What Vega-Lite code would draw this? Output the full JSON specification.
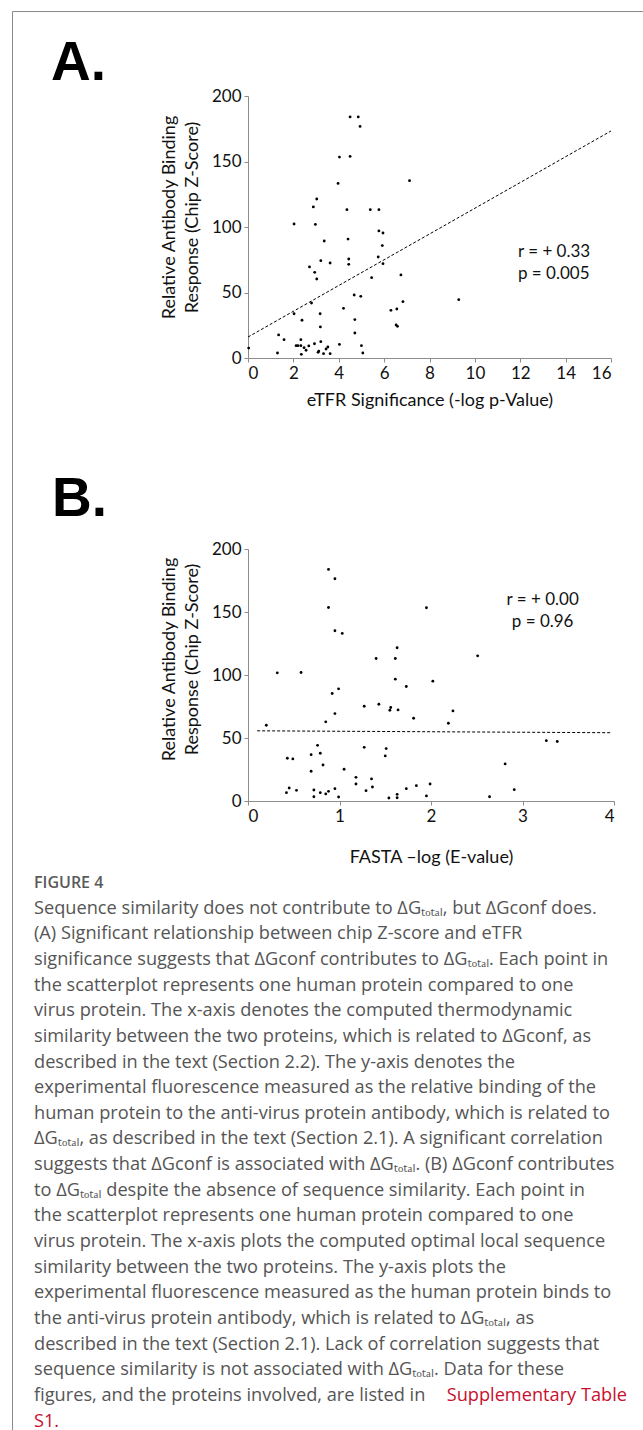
{
  "$schema": "https://vega.github.io/schema/vega-lite/v6.json",
  "background": "white",
  "padding": {"left": 11, "top": 11, "right": 0, "bottom": 0},
  "autosize": {"type": "pad"},
  "bounds": "flush",
  "spacing": 191,
  "config": {
    "view": {"stroke": null},
    "font": "Lato",
    "axis": {
      "grid": false,
      "domainColor": "#8c8c8c",
      "tickColor": "#8c8c8c",
      "tickSize": 4,
      "labelFont": "Lato",
      "labelFontSize": 17,
      "labelColor": "#111111",
      "titleFont": "Lato",
      "titleFontSize": 18,
      "titleFontWeight": "normal",
      "titleColor": "#111111"
    }
  },
  "datasets": {
    "a_points": [
      {"x": 0.03, "y": 7.6}, {"x": 1.3, "y": 3.8}, {"x": 1.35, "y": 17.6}, {"x": 1.59, "y": 14}, {"x": 2.03, "y": 102.3},
      {"x": 2.03, "y": 33.8}, {"x": 2.12, "y": 9.4}, {"x": 2.2, "y": 9.4}, {"x": 2.33, "y": 9.4}, {"x": 2.33, "y": 14},
      {"x": 2.38, "y": 28.8}, {"x": 2.35, "y": 2.8}, {"x": 2.47, "y": 7.9}, {"x": 2.56, "y": 5.9}, {"x": 2.71, "y": 69.5},
      {"x": 2.68, "y": 9.2}, {"x": 2.8, "y": 42}, {"x": 2.88, "y": 115.3}, {"x": 2.94, "y": 65.4}, {"x": 2.93, "y": 10.9},
      {"x": 2.97, "y": 102}, {"x": 3.03, "y": 121.4}, {"x": 3.03, "y": 60.3}, {"x": 3.09, "y": 4.3}, {"x": 3.12, "y": 5.3},
      {"x": 3.18, "y": 33.8}, {"x": 3.19, "y": 23.7}, {"x": 3.21, "y": 12.5}, {"x": 3.21, "y": 74.3}, {"x": 3.33, "y": 3.3},
      {"x": 3.36, "y": 89.3}, {"x": 3.44, "y": 6.9}, {"x": 3.52, "y": 8.4}, {"x": 3.62, "y": 72.5}, {"x": 3.62, "y": 3.3},
      {"x": 3.97, "y": 133.3}, {"x": 4.03, "y": 153.4}, {"x": 4.03, "y": 10.4}, {"x": 4.21, "y": 37.9}, {"x": 4.36, "y": 113.2},
      {"x": 4.41, "y": 90.8}, {"x": 4.5, "y": 184}, {"x": 4.5, "y": 153.9}, {"x": 4.44, "y": 75.6}, {"x": 4.44, "y": 71.5},
      {"x": 4.68, "y": 48.1}, {"x": 4.71, "y": 29.3}, {"x": 4.71, "y": 19.1}, {"x": 4.86, "y": 184}, {"x": 4.94, "y": 176.8},
      {"x": 4.97, "y": 47.1}, {"x": 5.0, "y": 9.4}, {"x": 5.06, "y": 3.8}, {"x": 5.39, "y": 113.2}, {"x": 5.45, "y": 61.3},
      {"x": 5.77, "y": 113.2}, {"x": 5.77, "y": 97}, {"x": 5.74, "y": 77.1}, {"x": 5.95, "y": 95.4}, {"x": 5.92, "y": 85.8},
      {"x": 5.95, "y": 72}, {"x": 6.3, "y": 36.4}, {"x": 6.56, "y": 37.4}, {"x": 6.53, "y": 25.2}, {"x": 6.59, "y": 24.2},
      {"x": 6.74, "y": 63.4}, {"x": 6.83, "y": 43}, {"x": 7.12, "y": 135.4}, {"x": 9.29, "y": 44.5}
    ],
    "a_fit": [{"x": 0, "y": 16}, {"x": 16, "y": 173.3}],
    "b_points": [
      {"x": 0.2, "y": 60.1}, {"x": 0.32, "y": 101.7}, {"x": 0.58, "y": 102}, {"x": 0.42, "y": 6.6}, {"x": 0.45, "y": 10.3},
      {"x": 0.43, "y": 33.9}, {"x": 0.49, "y": 33.4}, {"x": 0.53, "y": 8.5}, {"x": 0.69, "y": 36.8}, {"x": 0.69, "y": 23.6},
      {"x": 0.72, "y": 8.7}, {"x": 0.72, "y": 3.4}, {"x": 0.76, "y": 44.2}, {"x": 0.79, "y": 37.9}, {"x": 0.79, "y": 6.6},
      {"x": 0.82, "y": 28.6}, {"x": 0.85, "y": 5.6}, {"x": 0.85, "y": 62.8}, {"x": 0.88, "y": 183.8}, {"x": 0.88, "y": 153.6},
      {"x": 0.88, "y": 7.7}, {"x": 0.92, "y": 85.3}, {"x": 0.95, "y": 176.4}, {"x": 0.95, "y": 135.1}, {"x": 0.95, "y": 69.4},
      {"x": 0.95, "y": 9.8}, {"x": 0.99, "y": 89}, {"x": 0.99, "y": 3.2}, {"x": 1.03, "y": 133}, {"x": 1.05, "y": 25.2},
      {"x": 1.18, "y": 18.8}, {"x": 1.18, "y": 13.5}, {"x": 1.27, "y": 42.6}, {"x": 1.27, "y": 75.2}, {"x": 1.29, "y": 8.2},
      {"x": 1.35, "y": 17.5}, {"x": 1.36, "y": 11.1}, {"x": 1.4, "y": 113.1}, {"x": 1.43, "y": 76.8}, {"x": 1.5, "y": 35.8},
      {"x": 1.51, "y": 41.6}, {"x": 1.54, "y": 2.4}, {"x": 1.55, "y": 72}, {"x": 1.56, "y": 74.2}, {"x": 1.61, "y": 113.1},
      {"x": 1.61, "y": 96.7}, {"x": 1.63, "y": 121.6}, {"x": 1.63, "y": 5.3}, {"x": 1.63, "y": 2.6}, {"x": 1.64, "y": 72.3},
      {"x": 1.73, "y": 90.9}, {"x": 1.73, "y": 9.8}, {"x": 1.81, "y": 65.7}, {"x": 1.84, "y": 12.2}, {"x": 1.95, "y": 153.4},
      {"x": 2.02, "y": 95.1}, {"x": 1.99, "y": 13.5}, {"x": 1.95, "y": 4}, {"x": 2.19, "y": 61.7}, {"x": 2.24, "y": 71.5},
      {"x": 2.51, "y": 115.2}, {"x": 2.64, "y": 3.4}, {"x": 2.81, "y": 29.4}, {"x": 2.91, "y": 9}, {"x": 3.26, "y": 47.9},
      {"x": 3.38, "y": 47.2}
    ],
    "b_fit": [{"x": 0.1, "y": 55.7}, {"x": 3.96, "y": 54.2}],
    "caption": [
      {"line": 0, "kind": "heading", "text": "FIGURE 4"},
      {"line": 1, "kind": "body", "text": "Sequence similarity does not contribute to ΔGₜₒₜₐₗ, but ΔGconf does."},
      {"line": 2, "kind": "body", "text": "(A) Significant relationship between chip Z-score and eTFR"},
      {"line": 3, "kind": "body", "text": "significance suggests that ΔGconf contributes to ΔGₜₒₜₐₗ. Each point in"},
      {"line": 4, "kind": "body", "text": "the scatterplot represents one human protein compared to one"},
      {"line": 5, "kind": "body", "text": "virus protein. The x-axis denotes the computed thermodynamic"},
      {"line": 6, "kind": "body", "text": "similarity between the two proteins, which is related to ΔGconf, as"},
      {"line": 7, "kind": "body", "text": "described in the text (Section 2.2). The y-axis denotes the"},
      {"line": 8, "kind": "body", "text": "experimental fluorescence measured as the relative binding of the"},
      {"line": 9, "kind": "body", "text": "human protein to the anti-virus protein antibody, which is related to"},
      {"line": 10, "kind": "body", "text": "ΔGₜₒₜₐₗ, as described in the text (Section 2.1). A significant correlation"},
      {"line": 11, "kind": "body", "text": "suggests that ΔGconf is associated with ΔGₜₒₜₐₗ. (B) ΔGconf contributes"},
      {"line": 12, "kind": "body", "text": "to ΔGₜₒₜₐₗ despite the absence of sequence similarity. Each point in"},
      {"line": 13, "kind": "body", "text": "the scatterplot represents one human protein compared to one"},
      {"line": 14, "kind": "body", "text": "virus protein. The x-axis plots the computed optimal local sequence"},
      {"line": 15, "kind": "body", "text": "similarity between the two proteins. The y-axis plots the"},
      {"line": 16, "kind": "body", "text": "experimental fluorescence measured as the human protein binds to"},
      {"line": 17, "kind": "body", "text": "the anti-virus protein antibody, which is related to ΔGₜₒₜₐₗ, as"},
      {"line": 18, "kind": "body", "text": "described in the text (Section 2.1). Lack of correlation suggests that"},
      {"line": 19, "kind": "body", "text": "sequence similarity is not associated with ΔGₜₒₜₐₗ. Data for these"},
      {"line": 20, "kind": "body", "text": "figures, and the proteins involved, are listed in"},
      {"line": 20, "kind": "link_end", "text": "Supplementary Table"},
      {"line": 21, "kind": "link_start", "text": "S1."}
    ]
  },
  "vconcat": [
    {
      "width": 363,
      "height": 262,
      "title": {"text": "A.", "anchor": "start", "frame": "group", "dx": -197, "font": "Liberation Sans", "fontSize": 55, "fontWeight": "bold", "color": "#000000", "baseline": "alphabetic", "offset": -48},
      "layer": [
        {
          "data": {"name": "a_points"},
          "mark": {"type": "point", "filled": true, "color": "#000000", "size": 8, "opacity": 1},
          "encoding": {
            "x": {"field": "x", "type": "quantitative", "scale": {"domain": [0, 16], "nice": false},
                  "axis": {"values": [0, 2, 4, 6, 8, 10, 12, 14, 16], "format": "d", "title": "eTFR Significance (-log p-Value)", "titlePadding": 10, "labelPadding": 3}},
            "y": {"field": "y", "type": "quantitative", "scale": {"domain": [0, 200], "nice": false},
                  "axis": {"values": [0, 50, 100, 150, 200], "format": "d", "title": ["Relative Antibody Binding", "Response (Chip Z-Score)"], "titleLineHeight": 23, "titlePadding": 10, "titleY": 121, "labelPadding": 3}}
          }
        },
        {
          "data": {"name": "a_fit"},
          "mark": {"type": "line", "color": "#000000", "strokeWidth": 1, "strokeDash": [3, 2]},
          "encoding": {"x": {"field": "x", "type": "quantitative"}, "y": {"field": "y", "type": "quantitative"}}
        },
        {
          "data": {"values": [{}]},
          "mark": {"type": "text", "align": "left", "baseline": "middle", "font": "Lato", "fontSize": 17, "lineHeight": 22, "color": "#111111"},
          "encoding": {"x": {"datum": 11.9, "type": "quantitative"}, "y": {"datum": 80.9, "type": "quantitative"}, "text": {"value": ["r = + 0.33", "p = 0.005"]}}
        }
      ]
    },
    {
      "width": 366,
      "height": 252,
      "title": {"text": "B.", "anchor": "start", "frame": "group", "dx": -196, "font": "Liberation Sans", "fontSize": 55, "fontWeight": "bold", "color": "#000000", "baseline": "alphabetic", "offset": -31},
      "layer": [
        {
          "data": {"name": "b_points"},
          "mark": {"type": "point", "filled": true, "color": "#000000", "size": 8, "opacity": 1},
          "encoding": {
            "x": {"field": "x", "type": "quantitative", "scale": {"domain": [0, 4], "nice": false},
                  "axis": {"values": [0, 1, 2, 3, 4], "format": "d", "title": "FASTA –log (E-value)", "titlePadding": 24, "labelPadding": 3}},
            "y": {"field": "y", "type": "quantitative", "scale": {"domain": [0, 200], "nice": false},
                  "axis": {"values": [0, 50, 100, 150, 200], "format": "d", "title": ["Relative Antibody Binding", "Response (Chip Z-Score)"], "titleLineHeight": 23, "titlePadding": 10, "titleY": 110, "labelPadding": 3}}
          }
        },
        {
          "data": {"name": "b_fit"},
          "mark": {"type": "line", "color": "#000000", "strokeWidth": 1, "strokeDash": [3, 2]},
          "encoding": {"x": {"field": "x", "type": "quantitative"}, "y": {"field": "y", "type": "quantitative"}}
        },
        {
          "data": {"values": [{}]},
          "mark": {"type": "text", "align": "center", "baseline": "middle", "font": "Lato", "fontSize": 17, "lineHeight": 22, "color": "#111111"},
          "encoding": {"x": {"datum": 3.22, "type": "quantitative"}, "y": {"datum": 159.5, "type": "quantitative"}, "text": {"value": ["r = + 0.00", "p = 0.96"]}}
        }
      ]
    },
    {
      "width": 364,
      "height": 438,
      "layer": [
        {
          "data": {"values": [{}]},
          "mark": {"type": "rule", "color": "#8a8a8a", "strokeWidth": 1},
          "encoding": {
            "x": {"datum": -0.03626, "type": "quantitative", "scale": {"domain": [0.36088, 0.97471], "nice": false, "zero": false}, "axis": null},
            "y": {"datum": -34.171, "type": "quantitative", "scale": {"domain": [4.0546, 21.131], "nice": false, "zero": false, "reverse": true}, "axis": null},
            "y2": {"datum": 21.131}
          }
        },
        {
          "data": {"values": [{}]},
          "mark": {"type": "rule", "color": "#8a8a8a", "strokeWidth": 1},
          "encoding": {
            "x": {"datum": -0.03626, "type": "quantitative"},
            "x2": {"datum": 1.0287},
            "y": {"datum": -34.171, "type": "quantitative"}
          }
        },
        {
          "data": {"name": "caption"},
          "transform": [{"filter": "datum.kind == 'heading'"}],
          "mark": {"type": "text", "align": "left", "baseline": "alphabetic", "font": "Open Sans", "fontSize": 16, "fontWeight": 600, "color": "#5a5a5a"},
          "encoding": {"x": {"datum": 0, "type": "quantitative"}, "y": {"field": "line", "type": "quantitative"}, "text": {"field": "text"}}
        },
        {
          "data": {"name": "caption"},
          "transform": [{"filter": "datum.kind == 'body'"}],
          "mark": {"type": "text", "align": "left", "baseline": "alphabetic", "font": "Open Sans", "fontSize": 18.2, "color": "#555555"},
          "encoding": {"x": {"datum": 0, "type": "quantitative"}, "y": {"field": "line", "type": "quantitative"}, "text": {"field": "text"}}
        },
        {
          "data": {"name": "caption"},
          "transform": [{"filter": "datum.kind == 'link_end'"}],
          "mark": {"type": "text", "align": "right", "baseline": "alphabetic", "font": "Open Sans", "fontSize": 18.2, "color": "#c8102e"},
          "encoding": {"x": {"datum": 1, "type": "quantitative"}, "y": {"field": "line", "type": "quantitative"}, "text": {"field": "text"}}
        },
        {
          "data": {"name": "caption"},
          "transform": [{"filter": "datum.kind == 'link_start'"}],
          "mark": {"type": "text", "align": "left", "baseline": "alphabetic", "font": "Open Sans", "fontSize": 18.2, "color": "#c8102e"},
          "encoding": {"x": {"datum": 0, "type": "quantitative"}, "y": {"field": "line", "type": "quantitative"}, "text": {"field": "text"}}
        }
      ]
    }
  ]
}
